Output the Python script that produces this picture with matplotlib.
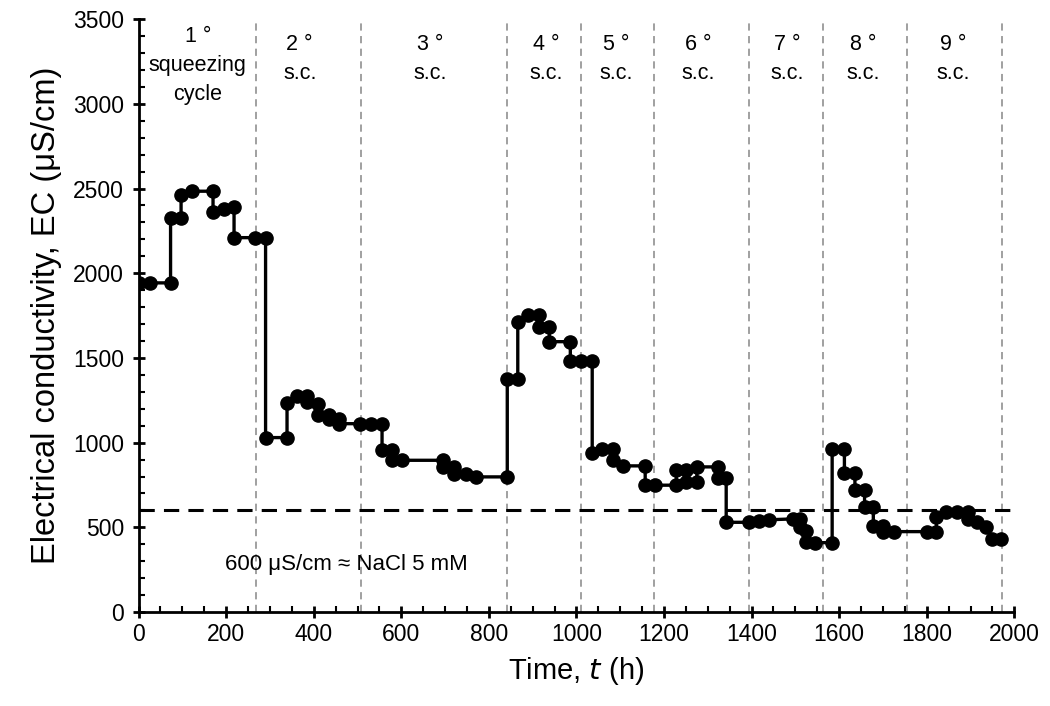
import numpy as np
import matplotlib.pyplot as plt
from matplotlib.ticker import MultipleLocator

plt.rcParams['font.family'] = ['Liberation Sans', 'DejaVu Sans']

# Data: time (h) and EC (uS/cm), step-like sequence
time_h = [0, 25, 73, 73, 97, 97, 122, 170, 170, 195, 218, 218, 266, 290,
          290, 339, 339, 361, 385, 385, 409, 409, 434, 434, 457, 457, 505, 530, 556,
          556, 578, 578, 602, 696, 696, 721, 721, 748, 771, 842,
          842, 866, 866, 890, 914, 914, 938, 938, 986, 986, 1011, 1036,
          1036, 1059, 1083, 1083, 1107, 1157, 1157,
          1180, 1228, 1228, 1250, 1250, 1275, 1275, 1323, 1323, 1342,
          1342, 1395, 1418, 1440, 1495, 1510, 1510, 1525, 1525, 1545,
          1584, 1584, 1612, 1612, 1636, 1636, 1658, 1658, 1678, 1678, 1700, 1700, 1725,
          1800, 1822, 1822, 1845, 1870, 1895, 1895, 1915, 1935, 1950, 1970]
ec = [1943, 1943, 1943, 2328, 2328, 2459, 2484, 2484, 2361, 2380, 2390, 2210, 2210, 2210,
      1030, 1030, 1235, 1278, 1278, 1240, 1229, 1165, 1165, 1141, 1141, 1112, 1112, 1112, 1112,
      955, 955, 896, 896, 896, 857, 857, 818, 818, 798, 798,
      1376, 1376, 1710, 1755, 1755, 1680, 1680, 1596, 1596, 1484, 1484, 1484,
      941, 960, 960, 896, 863, 863, 749,
      749, 749, 837, 837, 769, 769, 857, 857, 792, 792,
      530, 530, 535, 545, 550, 550, 500, 480, 415, 410,
      410, 965, 965, 820, 820, 720, 720, 620, 620, 510, 510, 475, 475,
      475, 475, 560, 590, 590, 590, 550, 530, 505, 430, 430]

# Squeezing cycle boundaries (h), labels and label centres (h)
cycle_bounds = [267, 507, 842, 1011, 1178, 1395, 1564, 1756, 1972]
cycle_labels = ['1 °\nsqueezing\ncycle', '2 °\ns.c.', '3 °\ns.c.', '4 °\ns.c.', '5 °\ns.c.',
                '6 °\ns.c.', '7 °\ns.c.', '8 °\ns.c.', '9 °\ns.c.']
label_x = [135, 368, 666, 930, 1090, 1278, 1482, 1655, 1860]
nacl_level = 600

fig = plt.figure(figsize=(10.5, 7.06), dpi=100)
ax = fig.add_axes([0.132, 0.133, 0.834, 0.840])

for xb in cycle_bounds:
    ax.axvline(xb, color='#999999', linestyle=(0, (4, 3)), linewidth=1.3, zorder=1)

for i, lab in enumerate(cycle_labels):
    ytop = 3460 if i == 0 else 3410
    ax.text(label_x[i], ytop, lab, ha='center', va='top', fontsize=15.5, linespacing=1.5)

ax.axhline(nacl_level, color='black', linestyle=(0, (5, 3)), linewidth=2.2, zorder=2)
ax.text(475, 282, '600 μS/cm ≈ NaCl 5 mM', ha='center', va='center', fontsize=16)

ax.plot(time_h, ec, color='black', linewidth=2.4, marker='o', markersize=9.5, zorder=3)

ax.set_xlim(0, 2000)
ax.set_ylim(0, 3500)
ax.xaxis.set_major_locator(MultipleLocator(200))
ax.xaxis.set_minor_locator(MultipleLocator(50))
ax.yaxis.set_major_locator(MultipleLocator(500))
ax.yaxis.set_minor_locator(MultipleLocator(100))
ax.tick_params(which='major', direction='inout', length=9, width=2, labelsize=16.5)
ax.tick_params(axis='y', which='major', pad=6)
ax.tick_params(which='minor', direction='in', length=4, width=1.5)

for s in ['top', 'right']:
    ax.spines[s].set_visible(False)
for s in ['left', 'bottom']:
    ax.spines[s].set_linewidth(2)

ax.set_xlabel('Time, $t$ (h)', fontsize=21, labelpad=6)
ax.set_ylabel('Electrical conductivity, EC (μS/cm)', fontsize=23.5, labelpad=8)

fig.savefig('out.png', dpi=100)
